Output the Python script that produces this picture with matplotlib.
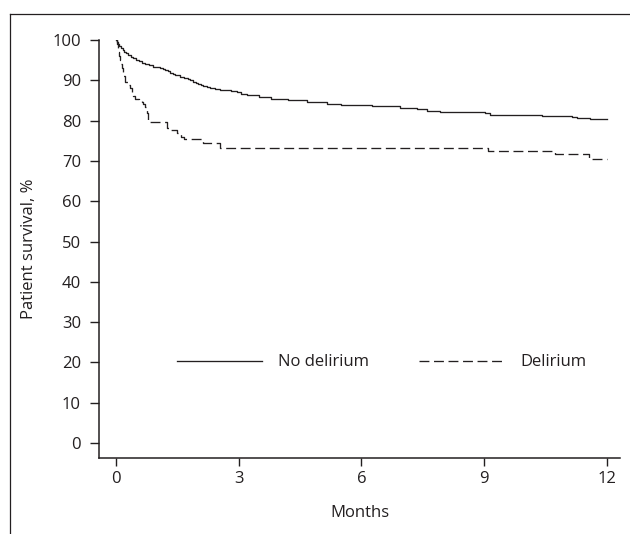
import matplotlib.pyplot as plt
from matplotlib.lines import Line2D

plt.rcParams['font.family'] = ['Open Sans', 'DejaVu Sans']

# Kaplan-Meier steps (months, survival %)
t_no = [0, 0.02, 0.05, 0.08, 0.12, 0.16, 0.2, 0.25, 0.3, 0.36, 0.42, 0.49, 0.56, 0.64,
        0.72, 0.8, 0.9, 1.08, 1.14, 1.2, 1.26, 1.32, 1.39, 1.45, 1.56, 1.65, 1.75,
        1.82, 1.89, 1.95, 2.0, 2.07, 2.13, 2.22, 2.3, 2.42, 2.54, 2.8, 2.95, 3.05,
        3.2, 3.5, 3.8, 4.2, 4.66, 5.15, 5.5, 6.25, 6.94, 7.35, 7.6, 7.92, 9.02, 9.14,
        10.41, 11.14, 11.26, 11.59, 12]
s_no = [100, 99.5, 99, 98.5, 98, 97.5, 97.1, 96.7, 96.3, 95.9, 95.5, 95.1, 94.7, 94.3,
        94, 93.7, 93.4, 93.1, 92.8, 92.5, 92.2, 91.8, 91.5, 91.2, 90.9, 90.6, 90.3,
        90.0, 89.7, 89.4, 89.1, 88.8, 88.5, 88.3, 88.1, 87.9, 87.7, 87.4, 87.1, 86.7,
        86.3, 85.8, 85.3, 85.0, 84.7, 84.1, 83.9, 83.5, 83.2, 82.9, 82.5, 82.1, 81.8, 81.5,
        81.2, 81.0, 80.7, 80.3, 80.3]

t_del = [0, 0.02, 0.04, 0.06, 0.08, 0.1, 0.12, 0.14, 0.16, 0.18, 0.22, 0.3, 0.34,
         0.38, 0.42, 0.46, 0.55, 0.63, 0.67, 0.71, 0.75, 0.79, 0.83, 1.24, 1.32, 1.48,
         1.6, 1.65, 2.13, 2.54, 9.1, 10.73, 11.55, 12]
s_del = [100, 99, 98, 97, 96, 95, 94, 93, 92, 91, 89.7, 88.8, 88, 87, 86.2, 85.3,
         84.9, 84.6, 84, 83.4, 82, 80.1, 79.6, 78.1, 77.7, 76.8, 75.9, 75.4, 74.4, 73.1,
         72.4, 71.6, 70.5, 70.5]

x_ticks = [0, 3, 6, 9, 12]
y_ticks = list(range(0, 101, 10))

ink = '#231f20'

fig = plt.figure(figsize=(6.3, 5.34), dpi=100)
ax = fig.add_axes([99 / 630, 76 / 534, 521 / 630, 418 / 534])

ax.plot(t_no, s_no, drawstyle='steps-post', color=ink, lw=0.95, label='No delirium')
ax.plot(t_del, s_del, drawstyle='steps-post', color=ink, lw=0.95,
        linestyle=(0, (7.5, 3.5)), label='Delirium')

ax.set_xlim(-0.416, 12.32)
ax.set_ylim(-3.72, 100)
ax.set_xticks(x_ticks)
ax.set_yticks(y_ticks)

for side in ['top', 'right']:
    ax.spines[side].set_visible(False)
for side in ['left', 'bottom']:
    ax.spines[side].set_linewidth(1.1)
    ax.spines[side].set_color(ink)

ax.tick_params(axis='x', length=6, width=1, pad=3.5, labelsize=12, colors=ink)
ax.tick_params(axis='y', length=6.5, width=1, pad=6.5, labelsize=12, colors=ink)

ax.set_ylabel('Patient survival, %', fontsize=12, color=ink, labelpad=11)
ax.set_xlabel('Months', fontsize=12, color=ink)
ax.xaxis.set_label_coords(0.5, -0.112)

ax.legend(loc='center left', bbox_to_anchor=(0.1497, 0.2287), ncol=2, frameon=False,
          fontsize=12, handlelength=5.1, handletextpad=0.96, columnspacing=3.0,
          borderpad=0, borderaxespad=0, labelcolor=ink)

# the box drawn round the figure (top and left edges only)
fig.add_artist(Line2D([10 / 630, 1], [1 - 14 / 534, 1 - 14 / 534], transform=fig.transFigure,
                      color=ink, lw=0.9))
fig.add_artist(Line2D([10 / 630, 10 / 630], [0, 1 - 14 / 534], transform=fig.transFigure,
                      color=ink, lw=0.9))

fig.savefig('out.png', dpi=100)
